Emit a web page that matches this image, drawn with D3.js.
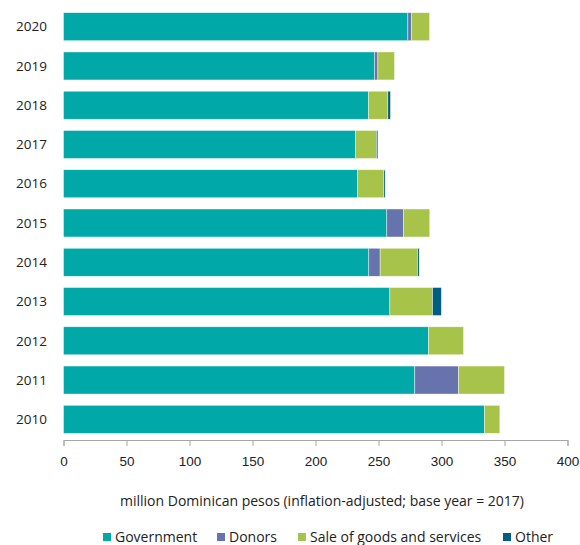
<!DOCTYPE html>
<html lang="en">
<head>
<meta charset="utf-8">
<style>
  body { margin: 0; background: white; }
  svg { font-family: "Open Sans", "Noto Sans", sans-serif; }
  .axis path, .axis line { stroke: #a6a6a6; }
  .axis text { font-size: 13.5px; fill: #222; }
  .seg { stroke: #ffffff; stroke-width: 0.6px; stroke-opacity: 0.7; }
</style>
<script src="https://d3js.org/d3.v7.min.js"></script>
</head>
<body>
<script>
var years = ["2010","2011","2012","2013","2014","2015","2016","2017","2018","2019","2020"];
var government = [334.1, 278.8, 289.7, 259.0, 242.3, 256.6, 233.3, 231.7, 242.0, 246.8, 273.3];
var donors     = [0, 34.7, 0, 0, 9.0, 13.2, 0, 0, 0, 2.7, 2.9];
var sales      = [12.2, 36.5, 27.8, 33.9, 29.7, 20.9, 20.9, 16.7, 15.4, 13.2, 14.3];
var other      = [0, 0, 0, 7.0, 1.3, 0, 1.1, 1.1, 2.1, 0, 0];
var seriesNames = ["Government", "Donors", "Sale of goods and services", "Other"];
var colors = ["#00a8a8", "#6673ad", "#a8c34a", "#005e80"];
var xTicks = [0, 50, 100, 150, 200, 250, 300, 350, 400];

var width = 580, height = 545;
var svg = d3.select("body").append("svg")
    .attr("width", width)
    .attr("height", height);

var rows = years.map(function(y, i) {
  return { year: y, Government: government[i], Donors: donors[i],
           "Sale of goods and services": sales[i], Other: other[i] };
});
var stack = d3.stack().keys(seriesNames)(rows);

var x = d3.scaleLinear().domain([0, 400]).range([63.5, 567.5]);
var y = d3.scaleBand().domain(years.slice().reverse())
    .range([12.7, 433.3]).paddingInner(0.287);

var layers = svg.append("g").selectAll("g")
  .data(stack).enter().append("g")
  .attr("fill", function(d, i) { return colors[i]; });

layers.selectAll("rect")
  .data(function(d) { return d.filter(function(p) { return p[1] - p[0] > 0; }); })
  .enter().append("rect")
  .attr("class", "seg")
  .attr("x", function(d) { return x(d[0]); })
  .attr("width", function(d) { return x(d[1]) - x(d[0]); })
  .attr("y", function(d) { return y(d.data.year); })
  .attr("height", y.bandwidth());

// year labels
svg.append("g").selectAll("text")
  .data(years).enter().append("text")
  .attr("x", 47)
  .attr("y", function(d) { return y(d) + y.bandwidth() / 2; })
  .attr("dy", "0.35em")
  .attr("text-anchor", "end")
  .style("font-size", "13.5px")
  .style("fill", "#222")
  .text(function(d) { return d; });

svg.append("g")
  .attr("class", "axis")
  .attr("transform", "translate(0,440)")
  .call(d3.axisBottom(x).tickValues(xTicks).tickSize(6).tickSizeOuter(6).tickPadding(10));

svg.append("text")
  .attr("x", 322)
  .attr("y", 506)
  .attr("text-anchor", "middle")
  .style("font-size", "14px")
  .style("fill", "#222")
  .text("million Dominican pesos (inflation-adjusted; base year = 2017)");

// legend
var legendX = [103, 217, 298, 503];
var legend = svg.append("g").selectAll("g")
  .data(seriesNames).enter().append("g")
  .attr("transform", function(d, i) { return "translate(" + legendX[i] + ",533)"; });
legend.append("rect")
  .attr("width", 8).attr("height", 8).attr("y", 0)
  .attr("fill", function(d, i) { return colors[i]; });
legend.append("text")
  .attr("x", 12).attr("y", 4).attr("dy", "0.35em")
  .style("font-size", "14px").style("fill", "#222")
  .text(function(d) { return d; });
</script>
</body>
</html>
